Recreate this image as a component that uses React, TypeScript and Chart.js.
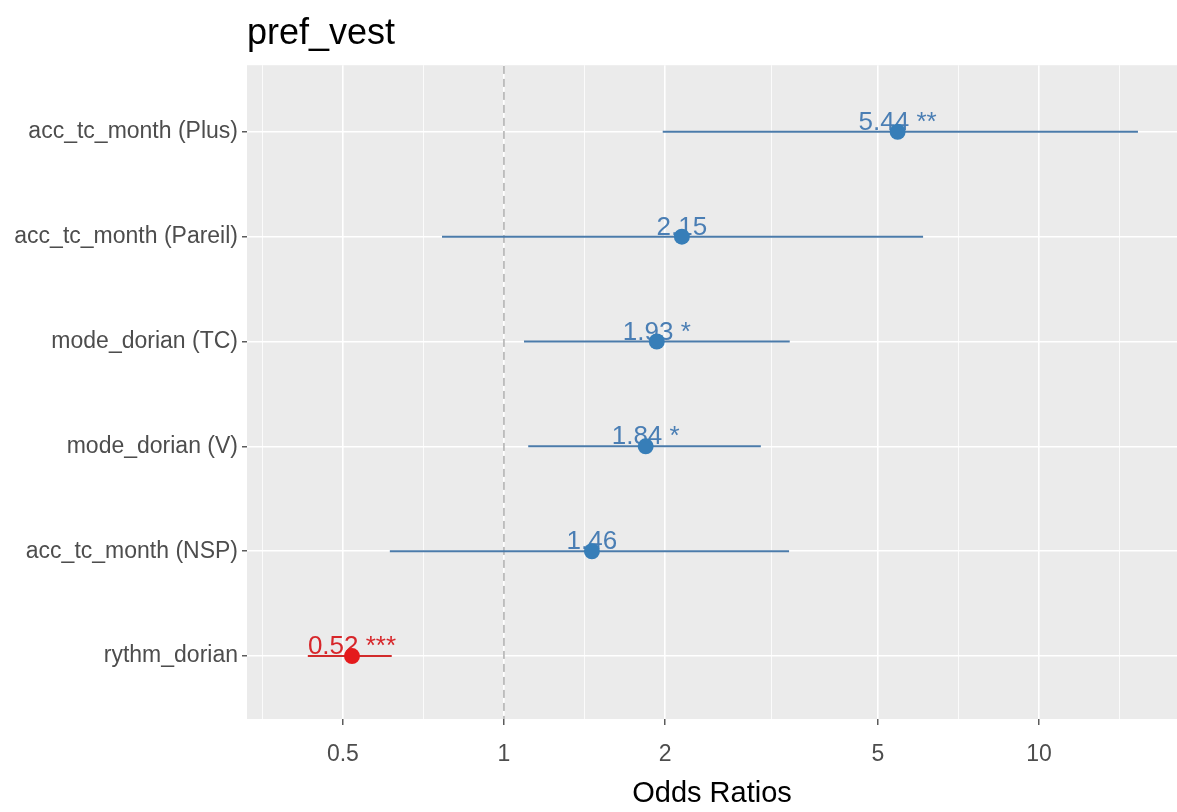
import React, { useEffect, useRef } from 'react';
import { Chart, registerables } from 'chart.js';

Chart.register(...registerables);

const chartTitle = 'pref_vest';
const axisTitle = 'Odds Ratios';
const categories = [
  'acc_tc_month (Plus)',
  'acc_tc_month (Pareil)',
  'mode_dorian (TC)',
  'mode_dorian (V)',
  'acc_tc_month (NSP)',
  'rythm_dorian',
];
const estimates = [5.44, 2.15, 1.93, 1.84, 1.46, 0.52];
const ciLow = [1.98, 0.766, 1.09, 1.11, 0.612, 0.43];
const ciHigh = [15.3, 6.07, 3.42, 3.02, 3.41, 0.617];
const stars = ['**', '', '*', '*', '', '***'];
const majorTicks = [0.5, 1, 2, 5, 10];
const minorTicks = [0.354, 0.707, 1.414, 3.162, 7.071, 14.14];

const FONT = "'Liberation Sans', Arial, sans-serif";
const BLUE_POINT = '#377EB8';
const BLUE_LINE = '#4B7BAA';
const BLUE_TEXT = '#4A7EB4';
const RED_POINT = '#E41A1C';
const RED_LINE = '#D22B2B';
const RED_TEXT = '#D7262A';

const isMajor = (v: number) => majorTicks.some((m) => Math.abs(m - v) < 1e-9);

export default function App() {
  const ref = useRef<HTMLCanvasElement | null>(null);

  useEffect(() => {
    document.body.style.margin = '0';
    const canvas = ref.current;
    if (!canvas) return;

    const lineSets: any[] = categories.map((c, i) => ({
      type: 'line',
      label: c,
      data: [
        { x: ciLow[i], y: i + 1 },
        { x: ciHigh[i], y: i + 1 },
      ],
      borderColor: estimates[i] < 1 ? RED_LINE : BLUE_LINE,
      borderWidth: 2,
      pointRadius: 0,
      showLine: true,
      order: 5,
    }));

    const refLine: any = {
      type: 'line',
      label: 'ref',
      data: [
        { x: 1, y: 0 },
        { x: 1, y: 7 },
      ],
      borderColor: '#858585',
      borderWidth: 1,
      borderDash: [8, 5],
      pointRadius: 0,
      order: 10,
    };

    const pointSet: any = {
      type: 'scatter',
      label: 'estimates',
      data: estimates.map((e, i) => ({ x: e, y: i + 1 })),
      backgroundColor: estimates.map((e) => (e < 1 ? RED_POINT : BLUE_POINT)),
      borderColor: estimates.map((e) => (e < 1 ? RED_POINT : BLUE_POINT)),
      pointRadius: 8,
      pointBorderWidth: 0,
      order: 0,
    };

    const datasets = [refLine, ...lineSets, pointSet];
    const pointIndex = datasets.length - 1;

    const panelBg = {
      id: 'panelBg',
      beforeDraw(chart: any) {
        const { ctx, chartArea } = chart;
        ctx.save();
        ctx.fillStyle = '#EBEBEB';
        ctx.fillRect(chartArea.left, chartArea.top, chartArea.right - chartArea.left, chartArea.bottom - chartArea.top);
        ctx.restore();
      },
    };

    const valueLabels = {
      id: 'valueLabels',
      beforeDatasetDraw(chart: any, args: any) {
        if (args.index !== pointIndex) return;
        const { ctx } = chart;
        const xs = chart.scales.x;
        const ys = chart.scales.y;
        ctx.save();
        ctx.font = `26px ${FONT}`;
        ctx.textAlign = 'center';
        ctx.textBaseline = 'alphabetic';
        estimates.forEach((e, i) => {
          const px = xs.getPixelForValue(e);
          const py = ys.getPixelForValue(i + 1);
          ctx.fillStyle = e < 1 ? RED_TEXT : BLUE_TEXT;
          const txt = e.toFixed(2) + (stars[i] ? ' ' + stars[i] : '');
          ctx.fillText(txt, px, py - 2);
        });
        ctx.restore();
      },
    };

    const chart = new Chart(canvas, {
      type: 'scatter',
      data: { datasets },
      plugins: [panelBg, valueLabels],
      options: {
        responsive: false,
        maintainAspectRatio: false,
        animation: false,
        layout: { autoPadding: false, padding: { left: 0, right: 0, top: 0, bottom: 0 } },
        plugins: {
          legend: { display: false },
          tooltip: { enabled: false },
          title: {
            display: true,
            text: chartTitle,
            align: 'start',
            fullSize: false,
            color: '#000000',
            font: { family: FONT, size: 36, weight: 'normal' },
            padding: { top: 12, bottom: 10 },
          },
        },
        scales: {
          x: {
            type: 'logarithmic',
            bounds: 'data',
            min: 0.331,
            max: 18.1,
            afterBuildTicks(scale: any) {
              const vals = [...majorTicks, ...minorTicks].sort((a, b) => a - b);
              scale.ticks = vals.map((v) => ({ value: v }));
            },
            afterFit(scale: any) {
              scale.height = 93;
              scale.paddingRight = 0;
              scale.paddingLeft = 0;
            },
            ticks: {
              autoSkip: false,
              maxRotation: 0,
              minRotation: 0,
              color: '#4D4D4D',
              font: { family: FONT, size: 23 },
              padding: 16,
              callback(value: any) {
                const v = Number(value);
                return isMajor(v) ? String(v) : '';
              },
            },
            grid: {
              color: '#FFFFFF',
              lineWidth: (ctx: any) => (ctx.tick && isMajor(ctx.tick.value) ? 1.6 : 0.8),
              tickColor: (ctx: any) => (ctx.tick && isMajor(ctx.tick.value) ? '#333333' : 'rgba(0,0,0,0)'),
              tickLength: 6,
              tickWidth: 1.2,
            },
            border: { display: false },
            title: {
              display: true,
              text: axisTitle,
              color: '#000000',
              font: { family: FONT, size: 29 },
              padding: { top: 0, bottom: 1 },
            },
          },
          y: {
            type: 'linear',
            min: 0.365,
            max: 6.6,
            reverse: true,
            afterBuildTicks(scale: any) {
              scale.ticks = categories.map((_, i) => ({ value: i + 1 }));
            },
            afterFit(scale: any) {
              scale.width = 247;
            },
            ticks: {
              autoSkip: false,
              color: '#4D4D4D',
              font: { family: FONT, size: 23 },
              padding: 4,
              callback(value: any) {
                const idx = Math.round(Number(value)) - 1;
                return categories[idx] ?? '';
              },
            },
            grid: {
              color: '#FFFFFF',
              lineWidth: 1.6,
              tickColor: '#333333',
              tickLength: 5,
              tickWidth: 1.2,
            },
            border: { display: false },
          },
        },
      } as any,
    } as any);

    return () => {
      chart.destroy();
    };
  }, []);

  return (
    <div style={{ width: 1177, height: 812 }}>
      <canvas ref={ref} width={1177} height={812} style={{ display: 'block' }} />
    </div>
  );
}
